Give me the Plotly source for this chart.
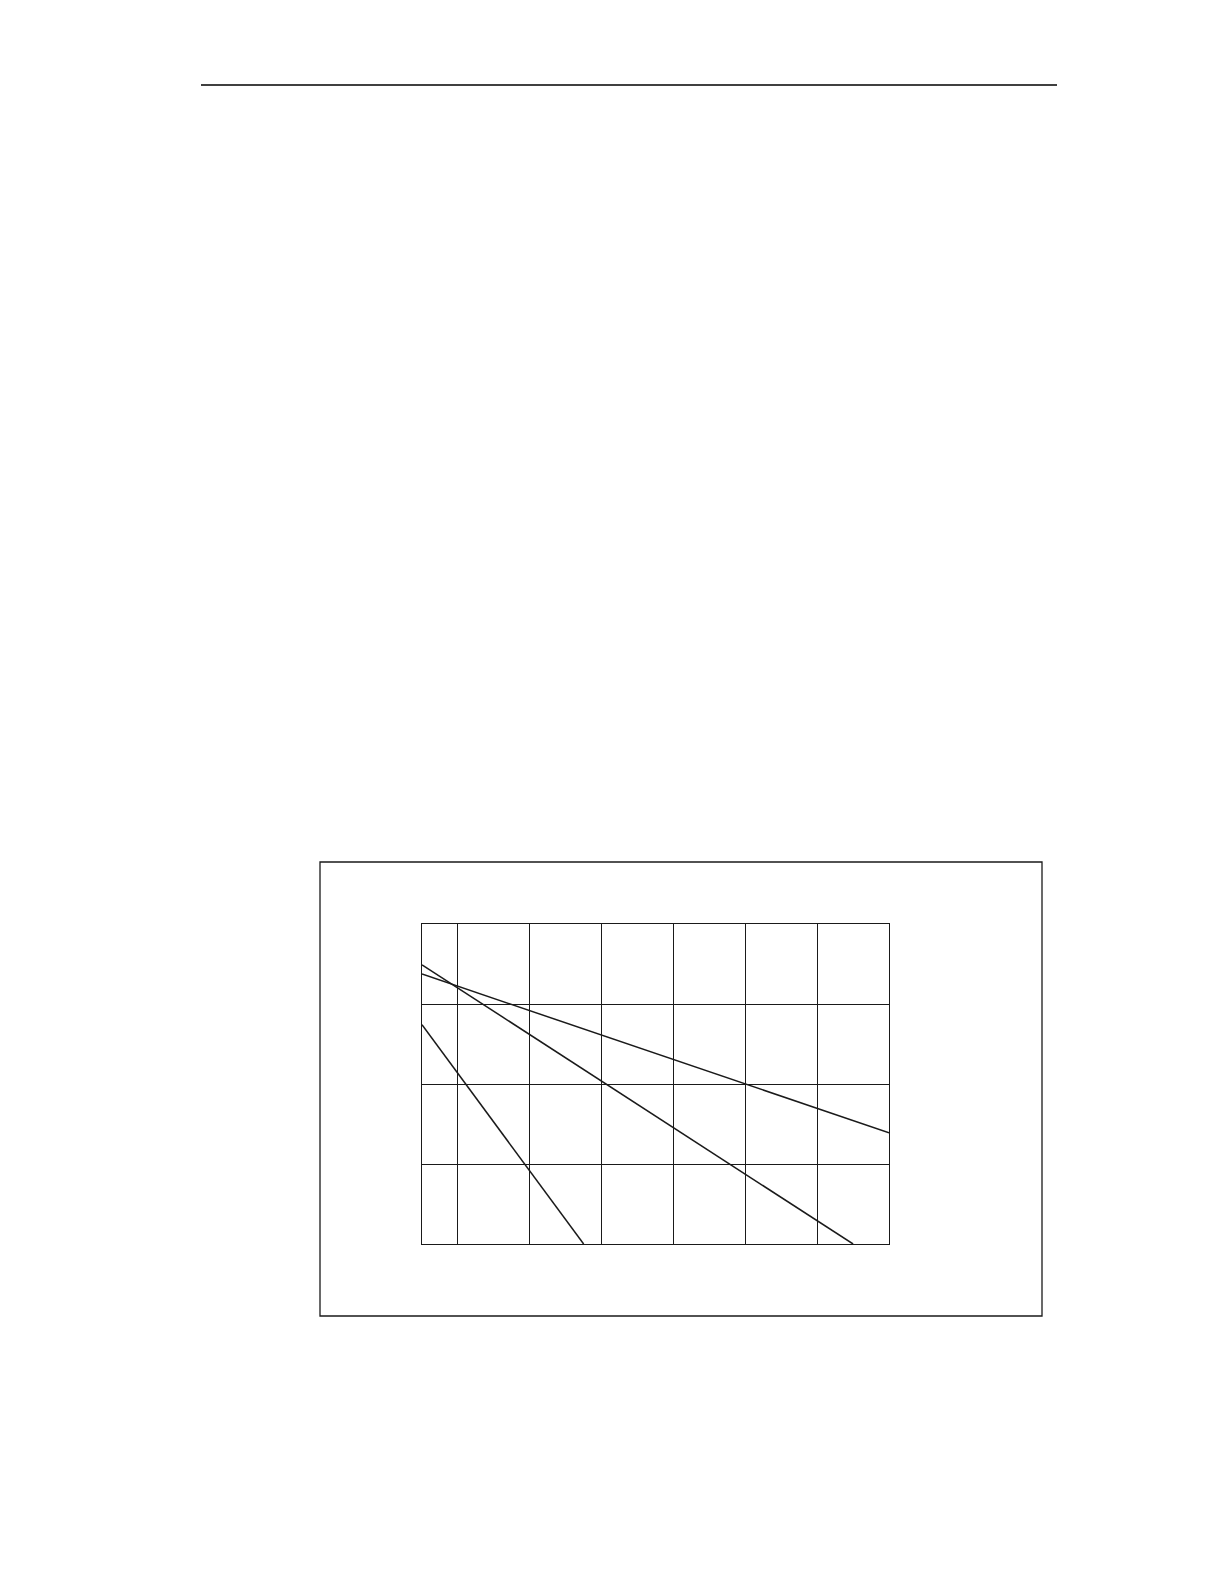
import plotly.graph_objects as go

PAGE_W, PAGE_H = 1224, 1584
BODY_MARGIN = 8  # default <body> margin of the written page
W, H = PAGE_W - 2 * BODY_MARGIN, PAGE_H - 2 * BODY_MARGIN

# three straight curves (x in grid units, y in grid units)
curve_a_x = [0.5, 7.0]
curve_a_y = [3.375, 1.39]
curve_b_x = [0.5, 6.5]
curve_b_y = [3.49, 0.0]
curve_c_x = [0.5, 2.75]
curve_c_y = [2.74, 0.0]

x_grid = [1, 2, 3, 4, 5, 6]
y_grid = [1, 2, 3]

INK = "#1a1a1a"


def px_x(v):
    return (v - BODY_MARGIN) / W


def px_y(v):
    return 1 - (v - BODY_MARGIN) / H


fig = go.Figure()
for xs, ys in [(curve_a_x, curve_a_y), (curve_b_x, curve_b_y), (curve_c_x, curve_c_y)]:
    fig.add_trace(
        go.Scatter(
            x=xs,
            y=ys,
            mode="lines",
            line={"color": INK, "width": 1.5},
            showlegend=False,
            hoverinfo="skip",
        )
    )

axis_common = {
    "showgrid": True,
    "gridcolor": INK,
    "gridwidth": 1.2,
    "showline": True,
    "linecolor": INK,
    "linewidth": 1.2,
    "mirror": True,
    "zeroline": False,
    "showticklabels": False,
    "ticks": "",
}

fig.update_layout(
    width=W,
    height=H,
    margin={"l": 0, "r": 0, "t": 0, "b": 0},
    paper_bgcolor="white",
    plot_bgcolor="white",
    xaxis={
        **axis_common,
        "range": [0.5, 7.0],
        "tickvals": x_grid,
        "domain": [px_x(422), px_x(889)],
    },
    yaxis={
        **axis_common,
        "range": [0, 4],
        "tickvals": y_grid,
        "domain": [px_y(1244), px_y(924)],
    },
    shapes=[
        # page header rule
        {
            "type": "line",
            "xref": "paper",
            "yref": "paper",
            "x0": px_x(201),
            "x1": px_x(1057),
            "y0": px_y(85),
            "y1": px_y(85),
            "line": {"color": "black", "width": 1.6},
        },
        # figure frame
        {
            "type": "rect",
            "xref": "paper",
            "yref": "paper",
            "x0": px_x(320),
            "x1": px_x(1042),
            "y0": px_y(1316),
            "y1": px_y(862),
            "line": {"color": INK, "width": 1.3},
        },
    ],
)

fig.write_html("out.html")
